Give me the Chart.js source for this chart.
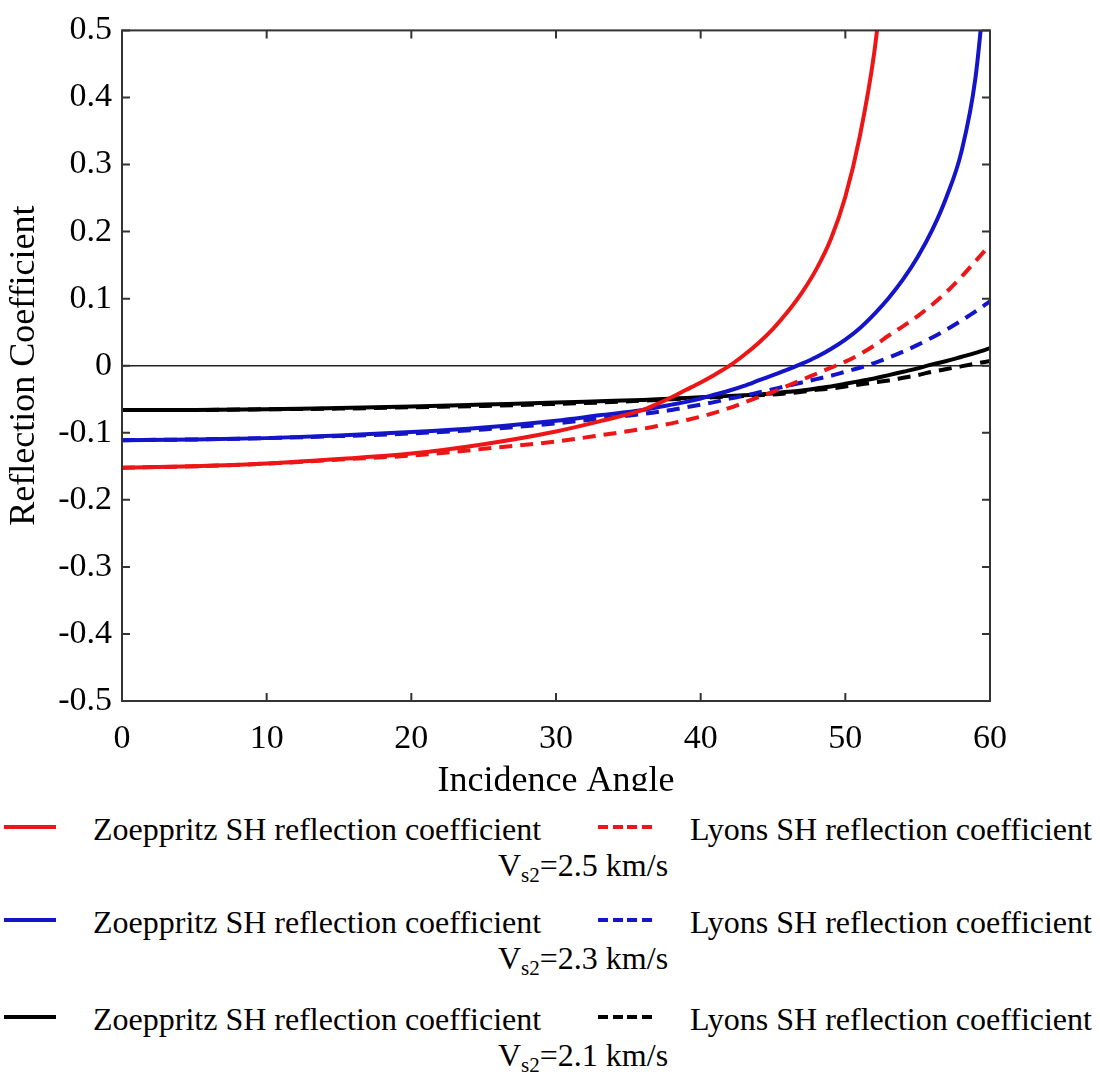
<!DOCTYPE html>
<html>
<head>
<meta charset="utf-8">
<title>SH reflection coefficient vs incidence angle</title>
<script src="https://cdn.jsdelivr.net/npm/chart.js@4.4.1/dist/chart.umd.min.js"></script>
<style>
  body { margin: 0; background: #fff; font-family: "Liberation Serif", "Times New Roman", serif; }
  #wrap { position: relative; width: 1100px; height: 1078px; overflow: hidden; }
  #plot { position: absolute; left: 0; top: 0; width: 1100px; height: 800px; }
  #legend { position: absolute; left: 0; top: 791px; width: 1100px; height: 287px; background: #fff; }
  .txt { position: absolute; font-size: 32px; line-height: 32px; white-space: nowrap; color: #000; }
  .txt sub { font-size: 21px; vertical-align: -6px; line-height: 0; }
  .swatch { position: absolute; height: 4px; width: 52px; }
</style>
</head>
<body>
<div id="wrap">
  <div id="plot"><canvas id="chart"></canvas></div>
  <div id="legend"></div>
</div>
<script>
// incidence angle (degrees)
const angles = [0, 5, 10, 15, 20, 25, 30, 33,
    36, 37, 38, 39, 40, 41, 42, 43, 44, 45, 46, 47, 48,
    49, 50, 51, 52, 53, 54, 55, 56, 57, 58, 59, 60];

// Vs2 = 2.5 km/s
const zoeppritz25 = [-0.152, -0.150, -0.146, -0.139, -0.131, -0.117, -0.098, -0.083,
    -0.066, -0.057, -0.047, -0.036, -0.025, -0.013, 0.000, 0.016, 0.034, 0.055, 0.080, 0.109, 0.144,
    0.189, 0.252, 0.342, 0.467, 0.660, null, null, null, null, null, null, null];
const lyons25 = [-0.152, -0.150, -0.146, -0.140, -0.134, -0.124, -0.113, -0.104,
    -0.094, -0.090, -0.086, -0.081, -0.076, -0.070, -0.063, -0.055, -0.047, -0.039, -0.030, -0.021, -0.012,
    -0.003, 0.006, 0.017, 0.030, 0.045, 0.059, 0.074, 0.091, 0.110, 0.132, 0.156, 0.180];

// Vs2 = 2.3 km/s
const zoeppritz23 = [-0.111, -0.110, -0.108, -0.104, -0.099, -0.092, -0.082, -0.074,
    -0.066, -0.062, -0.058, -0.054, -0.049, -0.043, -0.037, -0.030, -0.022, -0.014, -0.006, 0.003, 0.013,
    0.025, 0.039, 0.056, 0.077, 0.101, 0.129, 0.162, 0.202, 0.252, 0.317, 0.430, 0.650];
const lyons23 = [-0.111, -0.110, -0.108, -0.105, -0.101, -0.095, -0.086, -0.079,
    -0.072, -0.069, -0.066, -0.062, -0.058, -0.054, -0.049, -0.045, -0.040, -0.035, -0.030, -0.025, -0.020,
    -0.015, -0.009, -0.003, 0.004, 0.012, 0.021, 0.031, 0.042, 0.054, 0.067, 0.081, 0.096];

// Vs2 = 2.1 km/s
const zoeppritz21 = [-0.066, -0.066, -0.065, -0.063, -0.061, -0.058, -0.055, -0.053,
    -0.051, -0.050, -0.049, -0.048, -0.047, -0.046, -0.045, -0.044, -0.043, -0.041, -0.039, -0.037, -0.034,
    -0.031, -0.027, -0.023, -0.019, -0.014, -0.009, -0.004, 0.002, 0.007, 0.013, 0.019, 0.026];
const lyons21 = [-0.066, -0.066, -0.065, -0.064, -0.062, -0.060, -0.057, -0.055,
    -0.052, -0.051, -0.050, -0.049, -0.048, -0.047, -0.046, -0.045, -0.044, -0.043, -0.041, -0.039, -0.036,
    -0.034, -0.031, -0.028, -0.025, -0.022, -0.018, -0.014, -0.009, -0.005, -0.001, 0.003, 0.007];

const xTickValues = [0, 10, 20, 30, 40, 50, 60];
const xTickLabels = ['0', '10', '20', '30', '40', '50', '60'];
const yTickValues = [-0.5, -0.4, -0.3, -0.2, -0.1, 0, 0.1, 0.2, 0.3, 0.4, 0.5];
const yTickLabels = ['-0.5', '-0.4', '-0.3', '-0.2', '-0.1', '0', '0.1', '0.2', '0.3', '0.4', '0.5'];

const velocities = ['2.5', '2.3', '2.1'];
const colours = ['#ec1616', '#1414c8', '#000000'];
const zoeppritzSeries = [zoeppritz25, zoeppritz23, zoeppritz21];
const lyonsSeries = [lyons25, lyons23, lyons21];

const FONT = '"Liberation Serif", "Times New Roman", serif';

function toPoints(values) {
    return angles.map((a, i) => ({ x: a, y: values[i] })).filter(p => p.y !== null);
}

const datasets = [];
velocities.forEach((v, i) => {
    datasets.push({
        label: 'Zoeppritz SH reflection coefficient Vs2=' + v + ' km/s',
        data: toPoints(zoeppritzSeries[i]),
        borderColor: colours[i],
        borderWidth: 4,
        pointRadius: 0,
        cubicInterpolationMode: 'monotone',
        clip: 0
    });
    datasets.push({
        label: 'Lyons SH reflection coefficient Vs2=' + v + ' km/s',
        data: toPoints(lyonsSeries[i]),
        borderColor: colours[i],
        borderWidth: 4,
        borderDash: [13, 8],
        pointRadius: 0,
        cubicInterpolationMode: 'monotone',
        clip: 0
    });
});

// box round the plot area with inward tick marks
const frameTicks = {
    id: 'frameTicks',
    afterDatasetsDraw(chart) {
        const { ctx, chartArea: a, scales: { x, y } } = chart;
        ctx.save();
        ctx.strokeStyle = '#333';
        ctx.lineWidth = 2;
        ctx.strokeRect(a.left, a.top, a.right - a.left, a.bottom - a.top);
        ctx.beginPath();
        xTickValues.forEach(v => {
            const px = x.getPixelForValue(v);
            ctx.moveTo(px, a.bottom); ctx.lineTo(px, a.bottom - 8);
            ctx.moveTo(px, a.top); ctx.lineTo(px, a.top + 8);
        });
        yTickValues.forEach(v => {
            const py = y.getPixelForValue(v);
            ctx.moveTo(a.left, py); ctx.lineTo(a.left + 8, py);
            ctx.moveTo(a.right, py); ctx.lineTo(a.right - 8, py);
        });
        ctx.stroke();
        ctx.restore();
    }
};

new Chart(document.getElementById('chart'), {
    type: 'line',
    data: { datasets: datasets },
    options: {
        responsive: true,
        maintainAspectRatio: false,
        animation: false,
        layout: { padding: { left: 0, top: 19, right: 110, bottom: 0 } },
        plugins: { legend: { display: false }, tooltip: { enabled: false } },
        scales: {
            x: {
                type: 'linear',
                min: 0,
                max: 60,
                afterBuildTicks: s => { s.ticks = xTickValues.map(v => ({ value: v })); },
                afterFit: s => { s.height = 99; },
                ticks: {
                    callback: (v, i) => xTickLabels[i],
                    font: { family: FONT, size: 34 },
                    color: '#000',
                    padding: 18,
                    maxRotation: 0
                },
                grid: { display: false, drawTicks: false },
                border: { display: false },
                title: {
                    display: true,
                    text: 'Incidence Angle',
                    font: { family: FONT, size: 36, lineHeight: 1 },
                    color: '#000',
                    padding: { top: 0, bottom: 0 }
                }
            },
            y: {
                min: -0.5,
                max: 0.5,
                afterBuildTicks: s => { s.ticks = yTickValues.map(v => ({ value: v })); },
                afterFit: s => { s.width = 122; },
                ticks: {
                    callback: (v, i) => yTickLabels[i],
                    font: { family: FONT, size: 34 },
                    color: '#000',
                    padding: 10
                },
                grid: {
                    drawTicks: false,
                    color: c => (c.tick && c.tick.value === 0) ? '#222' : 'rgba(0,0,0,0)',
                    lineWidth: 1.5
                },
                border: { display: false },
                title: {
                    display: true,
                    text: 'Reflection Coefficient',
                    font: { family: FONT, size: 36, lineHeight: 1 },
                    color: '#000',
                    padding: { top: 7, bottom: 0 }
                }
            }
        }
    },
    plugins: [frameTicks]
});

// legend below the chart (HTML, for the subscript)
const legend = document.getElementById('legend');
const rowTop = [0, 93, 190];
velocities.forEach((v, i) => {
    const t = rowTop[i];
    legend.insertAdjacentHTML('beforeend',
        '<div class="swatch" style="left:4px;top:' + (t + 34) + 'px;background:' + colours[i] + '"></div>' +
        '<div class="txt" style="left:93px;top:' + (t + 22) + 'px">Zoeppritz SH reflection coefficient</div>' +
        '<div class="swatch" style="left:598px;top:' + (t + 34) + 'px;width:54px;background:repeating-linear-gradient(to right,' + colours[i] + ' 0 10px,transparent 10px 14.67px)"></div>' +
        '<div class="txt" style="left:690px;top:' + (t + 22) + 'px">Lyons SH reflection coefficient</div>' +
        '<div class="txt" style="left:498px;top:' + (t + 58) + 'px">V<sub>s2</sub>=' + v + ' km/s</div>');
});
</script>
</body>
</html>
